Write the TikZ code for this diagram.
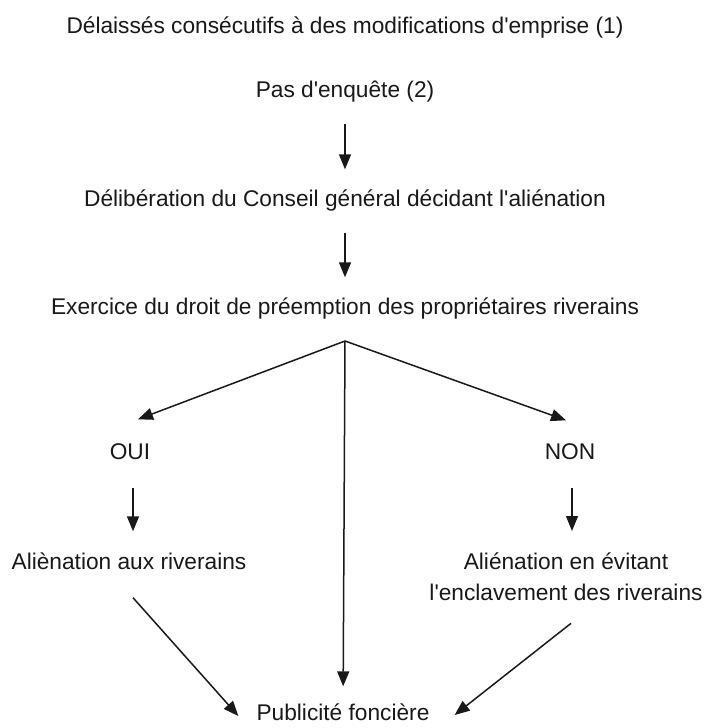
\documentclass[tikz,border=0pt]{standalone}
\usepackage{fontspec}
\setmainfont{Liberation Sans}
\usetikzlibrary{arrows.meta}
\newcommand{\sq}{\textquotesingle}
\begin{document}
\begin{tikzpicture}[x=1pt,y=-1pt,
  lbl/.style={inner sep=0pt, text=black!90, font=\fontsize{22.7}{31}\selectfont, text height=15pt, text depth=4pt},
  lbl2/.style={inner sep=0pt, text=black!90, align=center, font=\fontsize{22.7}{31}\selectfont},
  arr/.style={line width=1.5pt, draw=black!90, -{Triangle[length=15pt,width=12pt]}}]
\useasboundingbox[fill=white] (0,0) rectangle (706,728);
\node[lbl] (t1) at (345,28) {Délaissés consécutifs à des modifications d\sq emprise (1)};
\node[lbl] (t2) at (345,92) {Pas d\sq enquête (2)};
\node[lbl] (t3) at (345,201) {Délibération du Conseil général décidant l\sq aliénation};
\node[lbl] (t4) at (345,309) {Exercice du droit de préemption des propriétaires riverains};
\node[lbl] (oui) at (130,454) {OUI};
\node[lbl] (non) at (570,454) {NON};
\node[lbl] (al1) at (129,564) {Aliènation aux riverains};
\node[lbl2,anchor=north] (al2) at (566,553) {Aliénation en évitant\\l\sq enclavement des riverains};
\node[lbl] (pub) at (343,715) {Publicité foncière};
\coordinate (b) at (345,341);
% vertical chain
\draw[arr, shorten <=22pt, shorten >=22pt] (t2) -- (t3);
\draw[arr, shorten <=22pt, shorten >=22pt] (t3) -- (t4);
% branches
\draw[arr] (b) -- ([xshift=8pt,yshift=25pt]oui.north);
\draw[arr] (b) -- ([xshift=-4pt,yshift=24pt]non.north);
\draw[arr, shorten >=19pt] (b) -- (pub);
% yes / no
\draw[arr] ([xshift=3pt,yshift=-24pt]oui.south) -- ([xshift=3pt,yshift=23pt]oui.south |- al1.north);
\draw[arr] ([xshift=2pt,yshift=-24pt]non.south) -- ([xshift=2pt,yshift=22pt]non.south |- al2.north);
% to publicity
\draw[arr] ([xshift=4pt,yshift=-24pt]al1.south) -- ([xshift=-18pt,yshift=-1pt]pub.west);
\draw[arr] ([xshift=5pt,yshift=-22pt]al2.south) -- ([xshift=25pt,yshift=0pt]pub.east);
\end{tikzpicture}
\end{document}
